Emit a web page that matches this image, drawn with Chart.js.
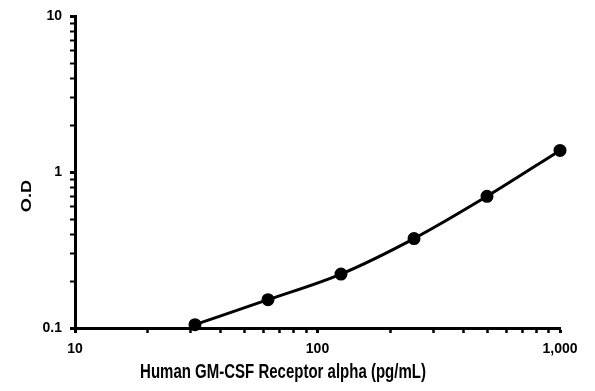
<!DOCTYPE html>
<html>
<head>
<meta charset="utf-8">
<script src="https://cdn.jsdelivr.net/npm/chart.js@4/dist/chart.umd.min.js"></script>
<style>
html,body{margin:0;padding:0;background:#fff;}
#wrap{width:595px;height:391px;position:relative;}
</style>
</head>
<body>
<div id="wrap"><canvas id="c"></canvas></div>
<script>
const concentrations = [31.25, 62.5, 125, 250, 500, 1000];
const odValues = [0.105, 0.152, 0.222, 0.375, 0.70, 1.38];
const xTickValues = [10,20,30,40,50,60,70,80,90,100,200,300,400,500,600,700,800,900,1000];
const yTickValues = [0.1,0.2,0.3,0.4,0.5,0.6,0.7,0.8,0.9,1,2,3,4,5,6,7,8,9,10];
const xTitle = 'Human GM-CSF Receptor alpha (pg/mL)';
const yTitle = 'O.D';

const FONT = 'Arial, "Liberation Sans", sans-serif';
function isMajor(v){ const l = Math.log10(v); return Math.abs(l - Math.round(l)) < 1e-9; }

const titlesPlugin = {
  id: 'titlesPlugin',
  afterDraw(chart){
    const ctx = chart.ctx;
    // y title
    ctx.save();
    ctx.translate(27.5, 196);
    ctx.rotate(-Math.PI/2);
    ctx.scale(1.3, 1);
    ctx.font = 'bold 14px ' + FONT;
    ctx.fillStyle = '#000';
    ctx.textAlign = 'center';
    ctx.textBaseline = 'middle';
    ctx.fillText(yTitle, 0, 0);
    ctx.restore();
    // x title
    ctx.save();
    ctx.translate(283, 373);
    ctx.scale(1, 1.3);
    ctx.font = 'bold 15px ' + FONT;
    ctx.fillStyle = '#000';
    ctx.textAlign = 'center';
    ctx.textBaseline = 'middle';
    ctx.fillText(xTitle, 0, 0);
    ctx.restore();
  }
};

new Chart(document.getElementById('c'), {
  type: 'line',
  data: {
    datasets: [{
      data: concentrations.map((x, i) => ({x: x, y: odValues[i]})),
      borderColor: '#000',
      backgroundColor: '#000',
      borderWidth: 3,
      pointRadius: 5,
      pointHoverRadius: 5,
      pointBackgroundColor: '#000',
      pointBorderColor: '#000',
      cubicInterpolationMode: 'monotone',
      clip: false
    }]
  },
  options: {
    responsive: true,
    maintainAspectRatio: false,
    animation: false,
    events: [],
    layout: { padding: { top: 15, right: 35, left: 0, bottom: 0 } },
    plugins: { legend: { display: false }, tooltip: { enabled: false } },
    scales: {
      x: {
        type: 'logarithmic',
        min: 10, max: 1000,
        afterBuildTicks(scale){ scale.ticks = xTickValues.map(v => ({value: v, major: isMajor(v)})); },
        afterFit(scale){ scale.height = 63; },
        border: { display: true, color: '#000', width: 3 },
        grid: {
          drawOnChartArea: false, drawTicks: true, tickLength: 5,
          tickColor: '#000',
          tickWidth: ctx => (ctx.tick && isMajor(ctx.tick.value)) ? 3 : 2.5
        },
        ticks: {
          autoSkip: false, maxRotation: 0, padding: 8,
          color: '#000',
          font: { family: FONT, size: 14, weight: 'bold' },
          callback: (v) => isMajor(v) ? Number(v).toLocaleString('en-US') : ''
        },
        title: { display: false }
      },
      y: {
        type: 'logarithmic',
        min: 0.1, max: 10,
        afterBuildTicks(scale){ scale.ticks = yTickValues.map(v => ({value: v, major: isMajor(v)})); },
        afterFit(scale){ scale.width = 75; },
        border: { display: true, color: '#000', width: 3 },
        grid: {
          drawOnChartArea: false, drawTicks: true, tickLength: 5,
          tickColor: '#000',
          tickWidth: ctx => (ctx.tick && isMajor(ctx.tick.value)) ? 3 : 2
        },
        ticks: {
          autoSkip: false, padding: 8,
          color: '#000',
          font: { family: FONT, size: 14, weight: 'bold' },
          callback: (v) => isMajor(v) ? String(v) : ''
        }
      }
    }
  },
  plugins: [titlesPlugin]
});
</script>
</body>
</html>
